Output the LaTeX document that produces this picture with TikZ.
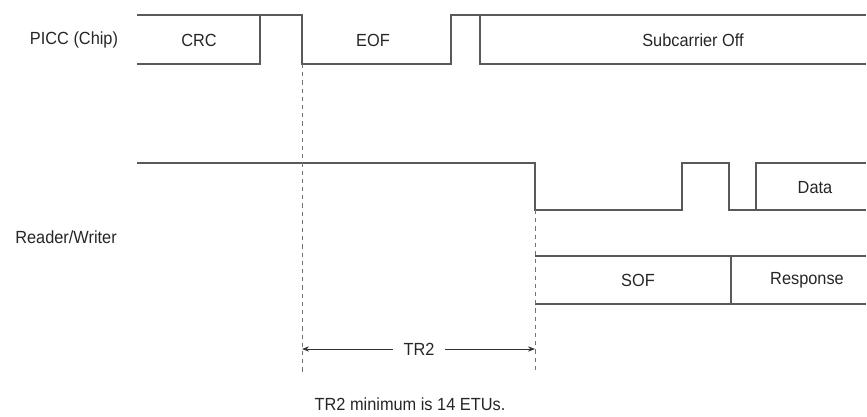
\documentclass[tikz,border=0pt]{standalone}
\usepackage{fontspec}
\setmainfont[FakeStretch=0.93]{Liberation Sans}
\usetikzlibrary{positioning,arrows.meta}

\begin{document}
\begin{tikzpicture}[x=0.03cm, y=-0.03cm, >={Stealth[length=6pt,width=4.5pt]},
    sig/.style={draw=black!65, line width=1pt},
    guide/.style={draw=black!55, line width=0.8pt, dash pattern=on 3.5pt off 3.5pt},
    lbl/.style={font=\fontsize{15}{17}\selectfont, text=black!85, inner sep=1pt}]
  \useasboundingbox (0,0) rectangle (867,416);

  % PICC (Chip) line
  \node[lbl] (picc) at (74,40) {PICC (Chip)};
  \draw[sig] (137,64) -- (260,64) -- (260,15);
  \draw[sig] (137,15) -- (302,15) -- (302,64) -- (451,64) -- (451,15) -- (866,15);
  \draw[sig] (480,15) -- (480,64) -- (866,64);
  \node[lbl] (crc) at (199,40) {CRC};
  \node[lbl] (eof) at (373,40) {EOF};
  \node[lbl] (suboff) at (693,40) {Subcarrier Off};

  % Reader/Writer line
  \node[lbl] (reader) at (66,237) {Reader/Writer};
  \draw[sig] (137,163) -- (535,163) -- (535,210) -- (682,210) -- (682,163)
    -- (729,163) -- (729,210) -- (866,210);
  \draw[sig] (756,210) -- (756,163) -- (866,163);
  \node[lbl] (data) at (815,188) {Data};

  \draw[sig] (535,256) -- (866,256);
  \draw[sig] (535,304) -- (866,304);
  \draw[sig] (731,256) -- (731,304);
  \node[lbl] (sof) at (638,280) {SOF};
  \node[lbl] (resp) at (807,280) {Response};

  % timing
  \coordinate (eofstart) at (302,64);
  \coordinate (sofstart) at (535,210);
  \draw[guide] (eofstart) -- ++(0,309) coordinate (eofend);
  \draw[guide] (sofstart) -- (sofstart |- eofend);

  \node[lbl, inner xsep=9pt] (tr2) at (419,349) {TR2};
  \draw[->, black!80, line width=0.8pt] (tr2.west) -- (eofstart |- tr2);
  \draw[->, black!80, line width=0.8pt] (tr2.east) -- (sofstart |- tr2);

  \node[lbl] (note) at (410,404) {TR2 minimum is 14 ETUs.};
\end{tikzpicture}
\end{document}
